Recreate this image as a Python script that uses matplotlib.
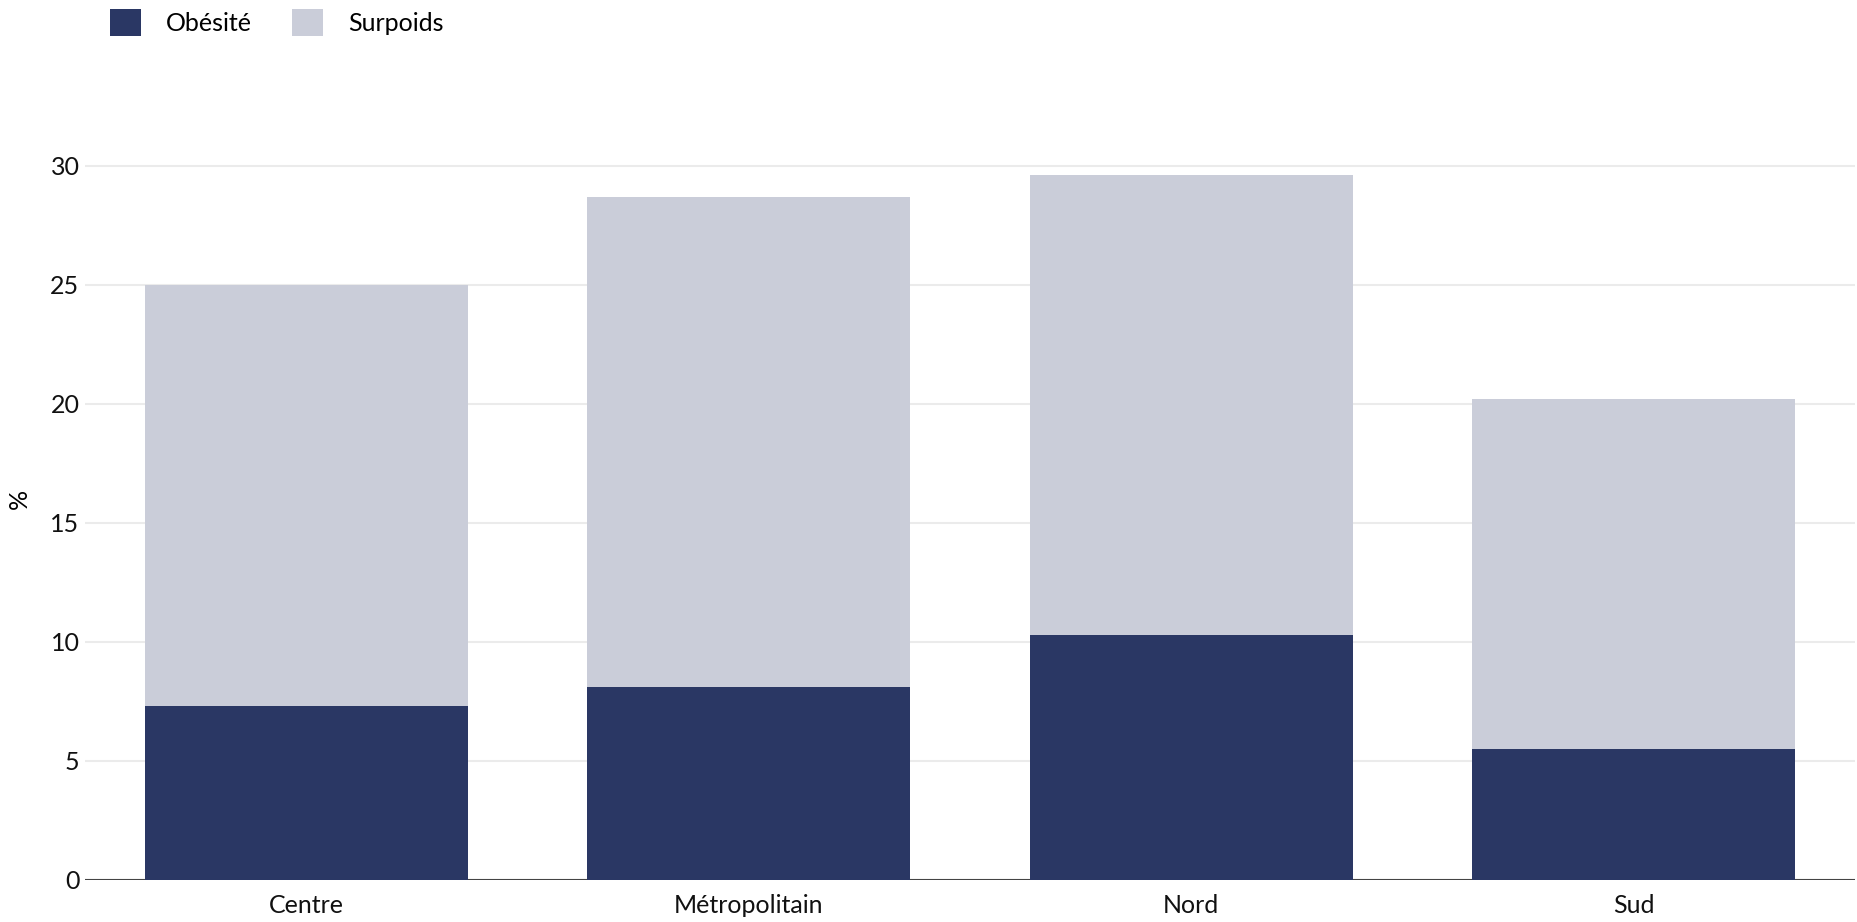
import matplotlib.pyplot as plt
import numpy as np

plt.rcParams['font.family'] = ['Lato', 'DejaVu Sans']

regions = ['Centre', 'Métropolitain', 'Nord', 'Sud']
obesite = [7.3, 8.1, 10.3, 5.5]
surpoids = [17.7, 20.6, 19.3, 14.7]

navy = '#2a3764'
grey = '#cacdd9'


def main():
    fig = plt.figure(figsize=(18.57, 9.22), dpi=100)
    ax = fig.add_axes([0.0458, 0.0456, 0.9531, 0.8264])

    x = np.arange(len(regions))
    ax.bar(x, obesite, width=0.73, color=navy, label='Obésité', zorder=3)
    ax.bar(x, surpoids, width=0.73, bottom=obesite, color=grey,
           label='Surpoids', zorder=3)

    ax.set_xlim(-0.5, len(regions) - 0.5)
    ax.set_ylim(0, 32)
    ax.set_yticks([0, 5, 10, 15, 20, 25, 30])
    ax.set_xticks(x)
    ax.set_xticklabels(regions)

    ax.grid(axis='y', color='#ebebeb', linewidth=1.5, zorder=0)
    ax.axhline(0, color='#444444', linewidth=1.5, zorder=2)
    for s in ax.spines.values():
        s.set_visible(False)
    ax.tick_params(axis='both', length=0, labelsize=18, colors='#111111')
    ax.tick_params(axis='x', pad=10)
    ax.tick_params(axis='y', pad=4)
    ax.set_ylabel('%', fontsize=18, labelpad=14)

    fig.legend(loc='upper left', bbox_to_anchor=(0.0592, 0.99), ncol=2,
               frameon=False, fontsize=18, handlelength=1.24,
               handleheight=1.28, handletextpad=1.0, columnspacing=1.6,
               borderpad=0, borderaxespad=0)

    fig.savefig('out.png', dpi=100)


if __name__ == "__main__":
    main()
